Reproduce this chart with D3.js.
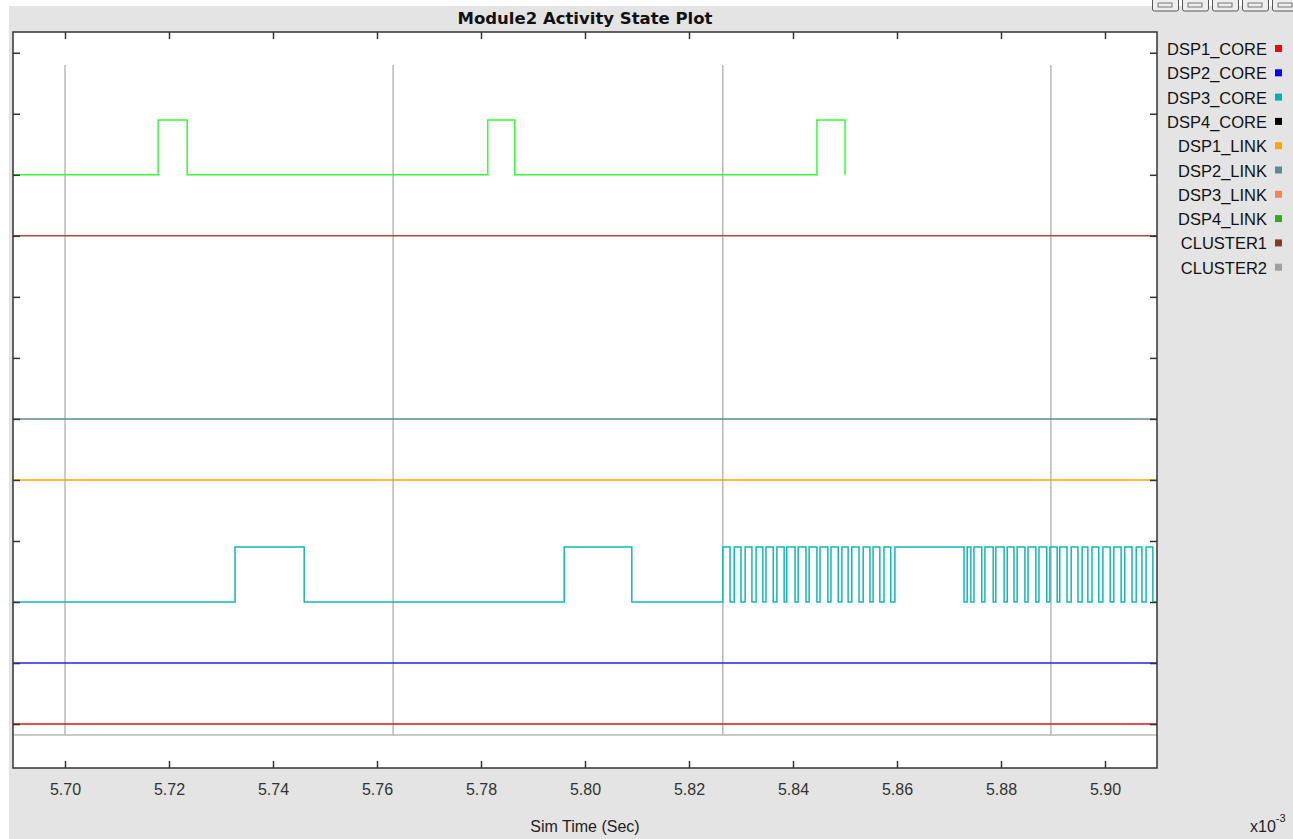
<!DOCTYPE html>
<html>
<head>
<meta charset="utf-8">
<script src="https://cdn.jsdelivr.net/npm/d3@7"></script>
<style>
  body { margin: 0; background: #fff; }
  svg text { font-family: "Liberation Sans", Arial, sans-serif; }
</style>
</head>
<body>
<script>
// ---- data (time in units of 1e-3 s) ----
var xTicks = [5.70, 5.72, 5.74, 5.76, 5.78, 5.80, 5.82, 5.84, 5.86, 5.88, 5.90];
var yTicks = [0, 1, 2, 3, 4, 5, 6, 7, 8, 9, 10, 11];
var gridTimes = [5.7000, 5.7631, 5.8265, 5.8896];

var legendNames = ["DSP1_CORE", "DSP2_CORE", "DSP3_CORE", "DSP4_CORE", "DSP1_LINK",
                   "DSP2_LINK", "DSP3_LINK", "DSP4_LINK", "CLUSTER1", "CLUSTER2"];
var legendColors = ["#ff0000", "#0000ff", "#00b0b0", "#000000", "#ffa500",
                    "#5b8a93", "#ff8050", "#33aa22", "#8b3a22", "#a0a0a0"];

// flat (idle) traces: level and colour
var flatLevels = [0, 1, 4, 5, 8];
var flatColors = ["#e01010", "#2020ff", "#ffa500", "#5b8a93", "#b04a3a"];

// pulsing traces: baseline level + toggle times
var greenLevel = 9;
var greenToggles = [5.7179, 5.7235, 5.7813, 5.7865, 5.8446, 5.8500];
var greenEnd = 5.8500;

var cyanLevel = 2;
var cyanToggles = [5.7327, 5.7460, 5.7960, 5.8090, 5.8265,
  5.8279, 5.8287, 5.8300, 5.8308, 5.8321, 5.8329, 5.8342, 5.8348,
  5.8362, 5.8369, 5.8383, 5.8388, 5.8404, 5.8410, 5.8425, 5.8431,
  5.8446, 5.8452, 5.8467, 5.8473, 5.8487, 5.8494, 5.8506, 5.8513,
  5.8527, 5.8535, 5.8548, 5.8554, 5.8567, 5.8575, 5.8588, 5.8596,
  5.8729, 5.8735, 5.8742, 5.8748, 5.8763, 5.8769, 5.8785, 5.8790,
  5.8806, 5.8812, 5.8825, 5.8831, 5.8846, 5.8852, 5.8867, 5.8873,
  5.8888, 5.8894, 5.8908, 5.8913, 5.8927, 5.8935, 5.8948, 5.8956,
  5.8967, 5.8975, 5.8988, 5.8996, 5.9010, 5.9017, 5.9031, 5.9038,
  5.9052, 5.9060, 5.9071, 5.9079, 5.9092];
var cyanEnd = 5.9102;

var pulseHeight = 0.9;
var gridBottom = -0.18, gridTop = 10.8;

// ---- layout ----
var W = 1293, H = 839;
var plotL = 13, plotR = 1157, plotT = 32, plotB = 768;

var x = d3.scaleLinear().domain([5.69, 5.91]).range([plotL, plotR]);
var y = d3.scaleLinear().domain([-0.72, 11.34]).range([plotB, plotT]);

var svg = d3.select("body").append("svg")
    .attr("width", W).attr("height", H);

// gray panel
svg.append("rect").attr("x", 9).attr("y", 6).attr("width", W - 9).attr("height", H - 6)
    .attr("fill", "#e4e4e4");

// toolbar buttons top right
[1152, 1182, 1212, 1242, 1272].forEach(function(bx) {
  svg.append("rect").attr("x", bx + 0.5).attr("y", -6).attr("width", 26).attr("height", 17)
     .attr("fill", "#eeeeee").attr("stroke", "#555").attr("rx", 2);
  svg.append("rect").attr("x", bx + 6).attr("y", 3).attr("width", 14).attr("height", 4)
     .attr("fill", "none").attr("stroke", "#777");
});

// plot area
svg.append("rect").attr("x", plotL).attr("y", plotT)
    .attr("width", plotR - plotL).attr("height", plotB - plotT).attr("fill", "#fff");

svg.append("defs").append("clipPath").attr("id", "clip")
  .append("rect").attr("x", plotL).attr("y", plotT)
  .attr("width", plotR - plotL).attr("height", plotB - plotT);

var g = svg.append("g").attr("clip-path", "url(#clip)");

// grid
g.selectAll(".vgrid").data(gridTimes).enter().append("line")
    .attr("x1", function(d) { return x(d); }).attr("x2", function(d) { return x(d); })
    .attr("y1", y(gridTop)).attr("y2", y(gridBottom))
    .attr("stroke", "#b8b8b8").attr("stroke-width", 1.5);
g.append("line").attr("x1", plotL).attr("x2", plotR)
    .attr("y1", y(gridBottom)).attr("y2", y(gridBottom))
    .attr("stroke", "#b8b8b8").attr("stroke-width", 1.5);

// flat traces
g.selectAll(".flat").data(flatLevels).enter().append("line")
    .attr("x1", plotL).attr("x2", plotR)
    .attr("y1", function(d) { return y(d); }).attr("y2", function(d) { return y(d); })
    .attr("stroke", function(d, i) { return flatColors[i]; })
    .attr("stroke-width", 1.5);

function stepPoints(level, toggles, endT) {
  var pts = [[x.domain()[0], level]];
  var high = false;
  toggles.forEach(function(t) {
    var cur = high ? level + pulseHeight : level;
    pts.push([t, cur]);
    high = !high;
    pts.push([t, high ? level + pulseHeight : level]);
  });
  pts.push([endT, high ? level + pulseHeight : level]);
  return pts;
}

var line = d3.line()
    .x(function(d) { return x(d[0]); })
    .y(function(d) { return y(d[1]); });

g.append("path").attr("d", line(stepPoints(cyanLevel, cyanToggles, cyanEnd)))
    .attr("fill", "none").attr("stroke", "#10b8b8").attr("stroke-width", 1.5);
g.append("path").attr("d", line(stepPoints(greenLevel, greenToggles, greenEnd)))
    .attr("fill", "none").attr("stroke", "#33ff33").attr("stroke-width", 1.5);

// frame
svg.append("rect").attr("x", plotL).attr("y", plotT)
    .attr("width", plotR - plotL).attr("height", plotB - plotT)
    .attr("fill", "none").attr("stroke", "#333").attr("stroke-width", 1.5);

// ticks (inward)
var tickLen = 7;
var axB = svg.append("g").attr("transform", "translate(0," + plotB + ")")
    .call(d3.axisBottom(x).tickValues(xTicks).tickSizeInner(-tickLen).tickSizeOuter(0)
          .tickPadding(16).tickFormat(d3.format(".2f")));
var axT = svg.append("g").attr("transform", "translate(0," + plotT + ")")
    .call(d3.axisTop(x).tickValues(xTicks).tickSizeInner(-tickLen).tickSizeOuter(0)
          .tickFormat(""));
var axL = svg.append("g").attr("transform", "translate(" + plotL + ",0)")
    .call(d3.axisLeft(y).tickValues(yTicks).tickSizeInner(-tickLen).tickSizeOuter(0)
          .tickFormat(""));
var axR = svg.append("g").attr("transform", "translate(" + plotR + ",0)")
    .call(d3.axisRight(y).tickValues(yTicks).tickSizeInner(-tickLen).tickSizeOuter(0)
          .tickFormat(""));
[axB, axT, axL, axR].forEach(function(a) {
  a.select(".domain").remove();
  a.selectAll(".tick line").attr("stroke", "#333").attr("stroke-width", 1.5);
});
axB.selectAll(".tick text").attr("font-size", 16).attr("fill", "#333")
    .attr("font-family", "'Liberation Sans', Arial, sans-serif");

// title
svg.append("text").attr("x", 585).attr("y", 24).attr("text-anchor", "middle")
    .attr("font-size", 16.5).attr("font-weight", "bold").attr("fill", "#111")
    .style("font-family", "'DejaVu Sans', Verdana, sans-serif")
    .text("Module2 Activity State Plot");

// axis title
svg.append("text").attr("x", 585).attr("y", 832).attr("text-anchor", "middle")
    .attr("font-size", 16).attr("fill", "#222").text("Sim Time (Sec)");

var xs = svg.append("text").attr("x", 1250).attr("y", 832)
    .attr("font-size", 16).attr("fill", "#222");
xs.append("tspan").text("x10");
xs.append("tspan").attr("dy", -10).attr("font-size", 11).text("-3");

// legend
var leg = svg.append("g").selectAll("g").data(legendNames).enter().append("g")
    .attr("transform", function(d, i) { return "translate(0," + (49 + i * 24.3) + ")"; });
leg.append("text").attr("x", 1267).attr("y", 6).attr("text-anchor", "end")
    .attr("font-size", 16.5).attr("fill", "#111").text(function(d) { return d; });
leg.append("rect").attr("x", 1275).attr("y", -4).attr("width", 7).attr("height", 7)
    .attr("fill", function(d, i) { return legendColors[i]; });
</script>
</body>
</html>
